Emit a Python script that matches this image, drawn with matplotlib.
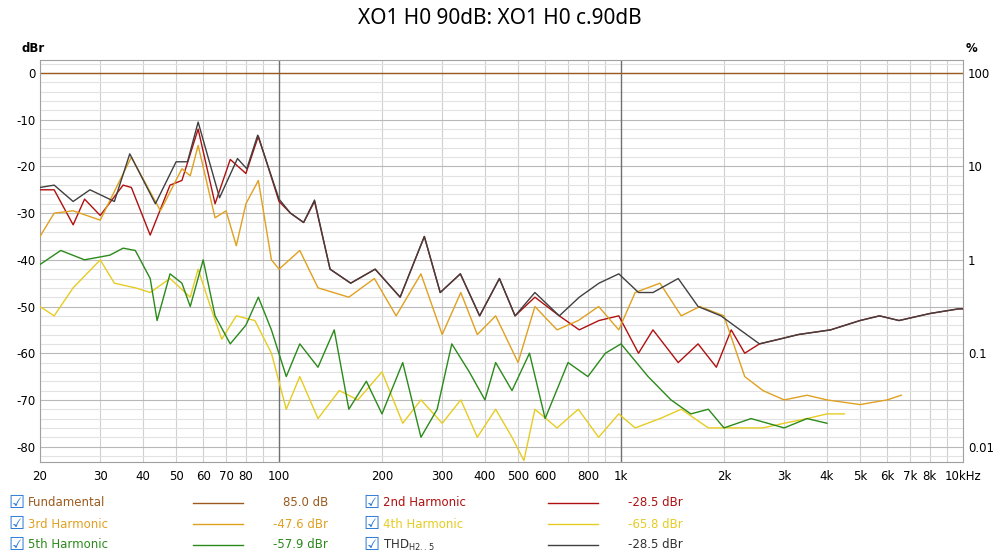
import numpy as np
import matplotlib.pyplot as plt
from matplotlib.ticker import FixedLocator, NullFormatter

plt.rcParams['axes.unicode_minus'] = False

# ---- data (Hz, dBr) ----
thd_f = [20, 22, 25, 28, 33, 36.6, 43.5, 50, 54, 58, 67, 75.6, 80.5, 86.6, 100, 108, 118, 127, 141, 162, 191, 226, 266, 296, 339, 386, 441, 490, 560, 660, 755, 862, 985, 1125, 1240, 1470, 1680, 1960, 2230, 2540, 2900, 3300, 4100, 5000, 5700, 6500, 8000, 9700, 10000]
thd_v = [-24.5, -24, -27.5, -25, -27.5, -17.3, -28, -19, -19, -10.5, -26.7, -18.3, -20.5, -13.3, -27, -30, -32, -27.2, -42, -45, -42, -48, -35, -47, -43, -52, -44, -52, -47, -52, -48, -45, -43, -47, -47, -44, -50, -52, -55, -58, -57, -56, -55, -53, -52, -53, -51.5, -50.5, -50.5]

h2_f = [20, 22, 25, 27, 30, 35, 37, 42, 48, 52, 58, 65, 72, 80, 87, 100, 108, 118, 127, 141, 162, 191, 226, 266, 296, 339, 386, 441, 490, 560, 660, 755, 862, 985, 1125, 1240, 1470, 1680, 1900, 2100, 2300, 2540, 2900, 3300, 4100, 5000, 5700, 6500, 8000, 9700, 10000]
h2_v = [-25, -25, -32.5, -27, -30.5, -24, -24.5, -34.7, -24, -23, -12, -28, -18.5, -21.5, -13.5, -27.5, -30, -32, -27.5, -42, -45, -42, -48, -35, -47, -43, -52, -44, -52, -48, -52, -55, -53, -52, -60, -55, -62, -58, -63, -55, -60, -58, -57, -56, -55, -53, -52, -53, -51.5, -50.5, -50.5]

h3_f = [20, 22, 25, 30, 37, 45, 52, 55, 58, 65, 70, 75, 80, 87, 95, 100, 115, 130, 160, 190, 220, 260, 300, 340, 380, 430, 500, 560, 650, 750, 860, 985, 1100, 1300, 1500, 1700, 2000, 2300, 2600, 3000, 3500, 4000, 5000, 6000, 6600]
h3_v = [-35, -30, -29.5, -31.5, -18, -29.5, -20.5, -22, -15.5, -31, -29.5, -37, -28, -23, -40, -42, -38, -46, -48, -44, -52, -43, -56, -47, -56, -52, -62, -50, -55, -53, -50, -55, -47, -45, -52, -50, -52, -65, -68, -70, -69, -70, -71, -70, -69]

h4_f = [20, 22, 25, 30, 33, 38, 42, 48, 55, 58, 63, 68, 75, 85, 95, 105, 115, 130, 150, 170, 200, 230, 260, 300, 340, 380, 430, 480, 520, 560, 650, 750, 860, 985, 1100, 1300, 1500, 1800, 2200, 2600, 3000, 3500, 4000, 4500]
h4_v = [-50, -52, -46, -40, -45, -46, -47, -44, -48, -42, -50, -57, -52, -53, -60, -72, -65, -74, -68, -70, -64, -75, -70, -75, -70, -78, -72, -78, -83, -72, -76, -72, -78, -73, -76, -74, -72, -76, -76, -76, -75, -74, -73, -73]

h5_f = [20, 23, 27, 32, 35, 38, 42, 44, 48, 52, 55, 60, 65, 72, 80, 87, 95, 105, 115, 130, 145, 160, 180, 200, 230, 260, 290, 320, 360, 400, 430, 480, 540, 600, 700, 800, 900, 1000, 1200, 1400, 1600, 1800, 2000, 2400, 3000, 3500, 4000]
h5_v = [-41, -38, -40, -39, -37.5, -38, -44, -53, -43, -45, -50, -40, -52, -58, -54, -48, -55, -65, -58, -63, -55, -72, -66, -73, -62, -78, -72, -58, -64, -70, -62, -68, -60, -74, -62, -65, -60, -58, -65, -70, -73, -72, -76, -74, -76, -74, -75]

fund_f = [20, 10000]
fund_v = [0, 0]

names = ['Fundamental', '2nd Harmonic', '3rd Harmonic', '4th Harmonic', '5th Harmonic', 'THD$_{\\mathrm{H2..5}}$']
values = ['85.0 dB', '-28.5 dBr', '-47.6 dBr', '-65.8 dBr', '-57.9 dBr', '-28.5 dBr']
colors = ['#9c5a1e', '#b01010', '#e0a020', '#e6cc22', '#2a8a1a', '#404040']

xt = [20, 30, 40, 50, 60, 70, 80, 100, 200, 300, 400, 500, 600, 800, 1000, 2000, 3000, 4000, 5000, 6000, 7000, 8000, 10000]
xtl = ['20', '30', '40', '50', '60', '70', '80', '100', '200', '300', '400', '500', '600', '800', '1k', '2k', '3k', '4k', '5k', '6k', '7k', '8k', '10kHz']

fig = plt.figure(figsize=(10, 5.6), dpi=100)
ax = fig.add_axes([0.040, 1 - 462 / 560, 0.923, 402 / 560])
fig.suptitle('XO1 H0 90dB: XO1 H0 c.90dB', y=0.985, fontsize=15, fontfamily='Noto Sans')

ax.set_xscale('log')
ax.set_xlim(20, 10000)
ax.set_ylim(-83.3, 2.8)

# grid
minor_x = [m * d for d in (10, 100, 1000) for m in range(2, 10) if 20 <= m * d <= 10000]
for f in minor_x:
    ax.axvline(f, color='#d0d0d0', lw=0.8, zorder=0)
for y in range(-82, 3, 2):
    ax.axhline(y, color='#b8b8b8' if y % 10 == 0 else '#e2e2e2', lw=0.8, zorder=0.5)
for f in (100, 1000):
    ax.axvline(f, color='#707070', lw=1.0, zorder=1)

lines = [(fund_f, fund_v), (h2_f, h2_v), (h3_f, h3_v), (h4_f, h4_v), (h5_f, h5_v), (thd_f, thd_v)]
order = [0, 4, 3, 2, 1, 5]
for i in order:
    ax.plot(lines[i][0], lines[i][1], color=colors[i], lw=1.0, zorder=2 + i)

ax.xaxis.set_major_locator(FixedLocator(xt))
ax.set_xticklabels(xtl)
ax.xaxis.set_minor_formatter(NullFormatter())
ax.tick_params(axis='x', which='both', length=0, labelsize=8.5, pad=6)
ax.set_yticks(range(-80, 1, 10))
ax.tick_params(axis='y', length=0, labelsize=8.5)
for s in ax.spines.values():
    s.set_color('#a0a0a0')

ax2 = ax.twinx()
ax2.set_ylim(ax.get_ylim())
ax2.set_yticks([0, -20, -40, -60, -80])
ax2.set_yticklabels(['100', '10', '1', '0.1', '0.01'])
ax2.tick_params(axis='y', length=0, labelsize=8.5)
for s in ax2.spines.values():
    s.set_visible(False)

fig.text(0.022, 1 - 49 / 560, 'dBr', fontsize=8.5, fontweight='bold', ha='left', va='center')
fig.text(0.966, 1 - 49 / 560, '%', fontsize=8.5, fontweight='bold', ha='left', va='center')

# legend
pos = [(0, 0), (1, 0), (0, 1), (1, 1), (0, 2), (1, 2)]
for i, (c, r) in enumerate(pos):
    x0 = 0.008 + c * 0.355
    y0 = 1 - (503 + r * 21) / 560
    fig.text(x0, y0, '\u2611', color='#2a7ad5', fontsize=13, va='center', ha='left')
    fig.text(x0 + 0.020, y0, names[i], color=colors[i] if i != 5 else '#303030', fontsize=8.5, va='center')
    fig.add_artist(plt.Line2D([x0 + 0.185, x0 + 0.235], [y0, y0], color=colors[i], lw=1.0, transform=fig.transFigure))
    fig.text(x0 + 0.320, y0, values[i], color=colors[i] if i != 5 else '#303030', fontsize=8.5, va='center', ha='right')

fig.savefig('out.png', dpi=100)
